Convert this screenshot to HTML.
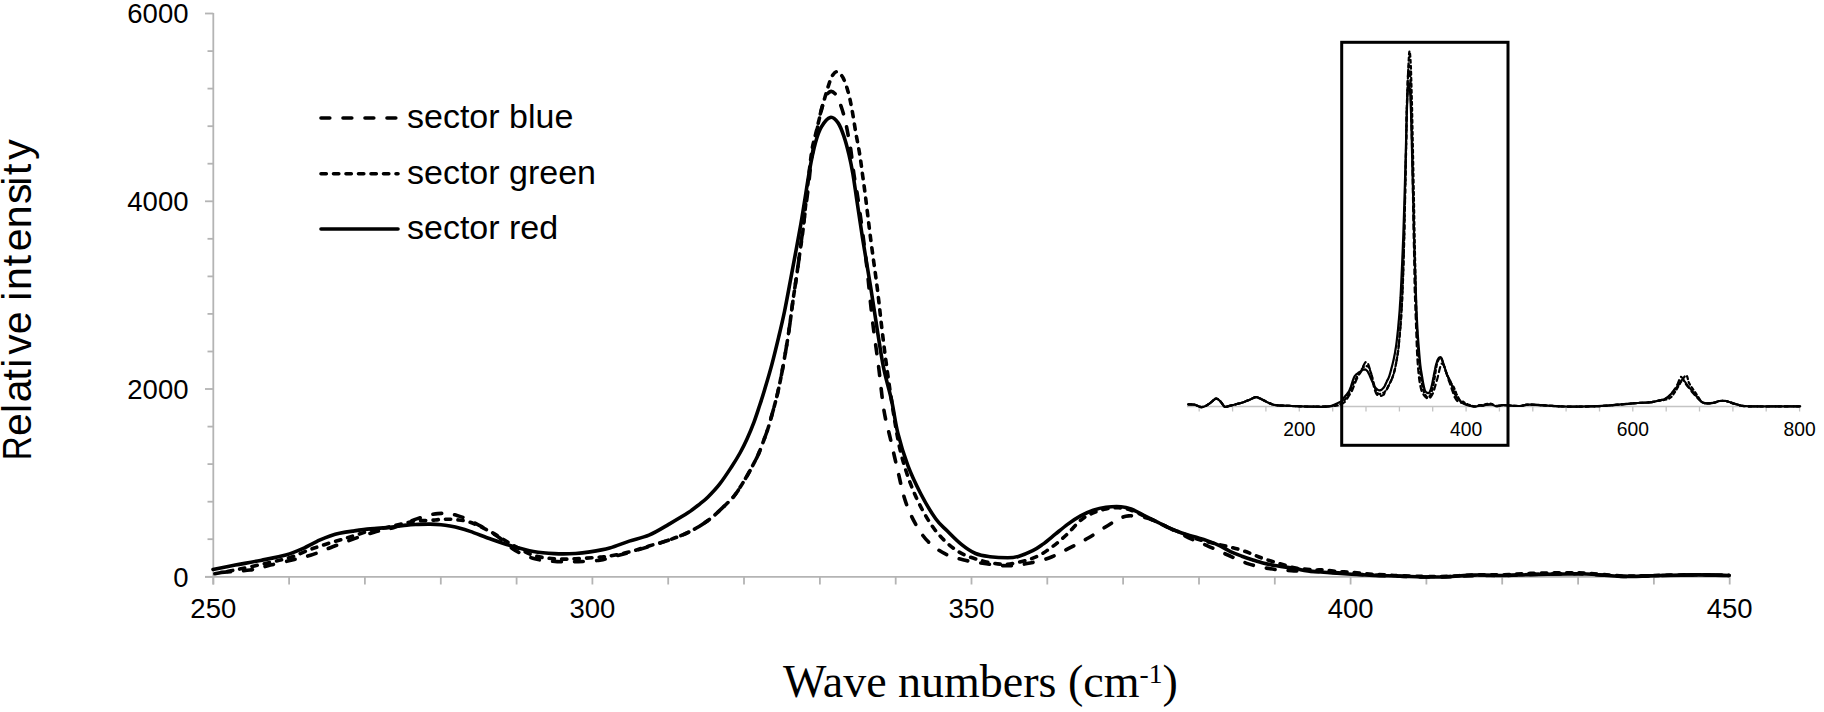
<!DOCTYPE html>
<html><head><meta charset="utf-8"><title>Raman spectra</title>
<style>html,body{margin:0;padding:0;background:#fff;}svg{display:block;}</style>
</head><body>
<svg width="1824" height="712" viewBox="0 0 1824 712">
<rect width="1824" height="712" fill="#fff"/>
<g stroke="#b4b4b4" stroke-width="1.8" fill="none"><line x1="213.3" y1="13" x2="213.3" y2="584.5" /><line x1="205" y1="576.8" x2="1730" y2="576.8" /><line x1="205" y1="13.5" x2="213.3" y2="13.5" /><line x1="207.5" y1="51.1" x2="213.3" y2="51.1" /><line x1="207.5" y1="88.6" x2="213.3" y2="88.6" /><line x1="207.5" y1="126.2" x2="213.3" y2="126.2" /><line x1="207.5" y1="163.7" x2="213.3" y2="163.7" /><line x1="205" y1="201.3" x2="213.3" y2="201.3" /><line x1="207.5" y1="238.8" x2="213.3" y2="238.8" /><line x1="207.5" y1="276.4" x2="213.3" y2="276.4" /><line x1="207.5" y1="313.9" x2="213.3" y2="313.9" /><line x1="207.5" y1="351.5" x2="213.3" y2="351.5" /><line x1="205" y1="389.0" x2="213.3" y2="389.0" /><line x1="207.5" y1="426.6" x2="213.3" y2="426.6" /><line x1="207.5" y1="464.1" x2="213.3" y2="464.1" /><line x1="207.5" y1="501.7" x2="213.3" y2="501.7" /><line x1="207.5" y1="539.2" x2="213.3" y2="539.2" /><line x1="205" y1="576.8" x2="213.3" y2="576.8" /><line x1="213.3" y1="576.8" x2="213.3" y2="584.5" /><line x1="289.1" y1="576.8" x2="289.1" y2="584.5" /><line x1="364.9" y1="576.8" x2="364.9" y2="584.5" /><line x1="440.8" y1="576.8" x2="440.8" y2="584.5" /><line x1="516.6" y1="576.8" x2="516.6" y2="584.5" /><line x1="592.4" y1="576.8" x2="592.4" y2="584.5" /><line x1="668.2" y1="576.8" x2="668.2" y2="584.5" /><line x1="744.0" y1="576.8" x2="744.0" y2="584.5" /><line x1="819.9" y1="576.8" x2="819.9" y2="584.5" /><line x1="895.7" y1="576.8" x2="895.7" y2="584.5" /><line x1="971.5" y1="576.8" x2="971.5" y2="584.5" /><line x1="1047.3" y1="576.8" x2="1047.3" y2="584.5" /><line x1="1123.1" y1="576.8" x2="1123.1" y2="584.5" /><line x1="1199.0" y1="576.8" x2="1199.0" y2="584.5" /><line x1="1274.8" y1="576.8" x2="1274.8" y2="584.5" /><line x1="1350.6" y1="576.8" x2="1350.6" y2="584.5" /><line x1="1426.4" y1="576.8" x2="1426.4" y2="584.5" /><line x1="1502.2" y1="576.8" x2="1502.2" y2="584.5" /><line x1="1578.1" y1="576.8" x2="1578.1" y2="584.5" /><line x1="1653.9" y1="576.8" x2="1653.9" y2="584.5" /><line x1="1729.7" y1="576.8" x2="1729.7" y2="584.5" /></g>
<g font-family="Liberation Sans, Arial, sans-serif" font-size="27.5" fill="#000"><text x="188.5" y="23.3" text-anchor="end">6000</text><text x="188.5" y="211.1" text-anchor="end">4000</text><text x="188.5" y="398.8" text-anchor="end">2000</text><text x="188.5" y="586.6" text-anchor="end">0</text><text x="213.3" y="617.8" text-anchor="middle">250</text><text x="592.4" y="617.8" text-anchor="middle">300</text><text x="971.5" y="617.8" text-anchor="middle">350</text><text x="1350.6" y="617.8" text-anchor="middle">400</text><text x="1729.7" y="617.8" text-anchor="middle">450</text></g>
<text x="783" y="696.7" font-family="Liberation Serif, Times New Roman, serif" font-size="46" fill="#000">Wave numbers (cm<tspan font-size="27.5" dy="-14">-1</tspan><tspan dy="14">)</tspan></text>
<text transform="translate(31,460.3) rotate(-90)" x="0.0 24.3 47.4 58.0 79.8 92.6 105.5 126.0 149.0 159.5 170.2 194.0 209.0 232.0 256.3 274.5 285.2 300.6" font-family="Liberation Sans, Arial, sans-serif" font-size="41" fill="#000"><tspan textLength="24" lengthAdjust="spacingAndGlyphs">R</tspan>elative intensity</text>
<g stroke="#000" stroke-width="3.6" stroke-linecap="round" fill="none"><line x1="321" y1="118" x2="397" y2="118" stroke-dasharray="8.8 13.2" /><line x1="321" y1="173.7" x2="398" y2="173.7" stroke-dasharray="5.3 7.2" /><line x1="321" y1="229" x2="398" y2="229" /></g>
<g font-family="Liberation Sans, Arial, sans-serif" font-size="34" fill="#000"><text x="407" y="127.5">sector blue</text><text x="407" y="183.5">sector green</text><text x="407" y="239">sector red</text></g>
<g stroke="#000" stroke-width="3.6" stroke-linecap="round" stroke-linejoin="round" fill="none"><path d="M213.0,573.0 C219.2,572.5 240.4,571.3 250.0,570.0 C259.6,568.7 263.0,566.9 270.4,565.1 C277.8,563.4 287.2,561.3 294.3,559.5 C301.4,557.7 306.7,556.6 313.2,554.4 C319.7,552.2 326.4,549.1 333.3,546.5 C340.2,543.9 347.2,541.1 354.4,538.6 C361.6,536.1 369.7,533.5 376.3,531.6 C382.9,529.8 387.3,529.6 394.0,527.5 C400.7,525.4 409.4,521.2 416.7,518.9 C424.0,516.6 431.0,514.2 437.7,513.6 C444.4,513.0 450.2,513.5 457.0,515.4 C463.8,517.3 471.8,521.5 478.7,525.1 C485.6,528.7 492.2,532.8 498.3,537.0 C504.4,541.2 509.1,546.8 515.2,550.4 C521.3,554.0 527.8,556.9 534.8,558.8 C541.8,560.7 550.0,561.1 557.3,561.6 C564.6,562.1 571.3,561.8 578.4,561.6 C585.5,561.4 594.8,560.9 600.0,560.2 C605.2,559.5 604.8,558.8 609.7,557.5 C614.6,556.2 622.8,554.3 629.3,552.5 C635.8,550.7 642.4,548.6 649.0,546.5 C655.6,544.4 662.2,542.5 668.7,540.1 C675.2,537.7 681.8,535.6 688.3,532.3 C694.8,529.0 701.4,525.4 708.0,520.5 C714.6,515.6 723.0,507.3 727.7,502.8 C732.4,498.3 733.0,497.6 736.0,493.5 C739.0,489.4 742.8,482.9 745.6,478.3 C748.4,473.7 750.5,469.7 752.6,465.7 C754.7,461.7 756.4,458.7 758.3,454.4 C760.2,450.1 762.3,444.3 763.9,440.0 C765.5,435.7 766.7,432.5 768.0,428.5 C769.3,424.5 770.3,420.7 771.6,416.0 C772.9,411.3 774.7,404.8 775.8,400.5 C776.9,396.2 777.2,395.2 778.2,390.5 C779.2,385.8 780.7,379.1 782.0,372.0 C783.3,364.9 784.9,355.7 786.2,348.0 C787.5,340.3 788.5,333.8 789.6,326.0 C790.7,318.2 791.8,309.0 792.9,301.0 C794.0,293.0 795.2,285.7 796.3,278.0 C797.4,270.3 798.4,263.3 799.5,255.0 C800.6,246.7 801.6,238.8 803.0,228.0 C804.4,217.2 806.7,200.8 808.0,190.0 C809.3,179.2 810.0,170.8 811.0,163.0 C812.0,155.2 813.4,147.6 814.2,143.0 C815.0,138.4 815.4,138.2 816.0,135.6 C816.6,133.0 816.9,130.7 817.6,127.2 C818.3,123.7 819.5,117.7 820.2,114.5 C820.9,111.3 821.1,110.2 821.8,107.8 C822.5,105.4 823.6,102.4 824.4,100.2 C825.2,98.0 825.7,96.1 826.8,94.6 C827.9,93.1 829.7,91.5 831.1,91.4 C832.5,91.3 834.1,92.7 835.3,94.0 C836.5,95.3 837.5,97.2 838.5,99.5 C839.5,101.8 840.6,104.8 841.5,107.5 C842.4,110.2 843.2,112.8 844.0,116.0 C844.8,119.2 845.8,123.0 846.5,126.5 C847.2,130.0 847.8,133.0 848.5,137.0 C849.2,141.0 850.0,144.2 850.9,150.4 C851.8,156.6 852.8,166.2 853.9,174.0 C855.0,181.8 855.8,183.6 857.8,197.5 C859.8,211.4 863.4,237.4 865.8,257.7 C868.2,277.9 870.1,300.7 872.3,319.0 C874.4,337.3 876.8,352.2 878.7,367.4 C880.6,382.6 882.0,398.4 883.9,410.1 C885.8,421.9 887.9,427.8 890.2,437.9 C892.5,448.0 895.3,460.3 897.8,470.8 C900.3,481.3 902.4,492.2 905.4,501.1 C908.4,510.0 911.7,517.1 915.5,523.9 C919.3,530.6 923.1,536.5 928.1,541.6 C933.1,546.7 939.5,551.1 945.8,554.2 C952.1,557.4 959.4,558.9 966.1,560.5 C972.9,562.1 979.5,562.9 986.3,563.8 C993.1,564.7 1000.2,565.8 1007.0,565.8 C1013.8,565.8 1020.0,564.9 1027.0,563.6 C1034.0,562.3 1042.0,560.6 1049.0,558.0 C1056.0,555.4 1062.7,551.5 1069.2,548.2 C1075.7,544.9 1082.1,541.6 1088.2,538.0 C1094.3,534.4 1100.9,529.9 1105.9,526.7 C1111.0,523.6 1114.7,520.9 1118.5,519.1 C1122.3,517.3 1124.4,516.2 1128.6,515.9 C1132.8,515.6 1139.2,516.2 1143.8,517.2 C1148.4,518.2 1152.2,519.8 1156.4,521.6 C1160.6,523.4 1163.6,525.2 1169.1,527.9 C1174.6,530.6 1183.0,535.0 1189.3,538.0 C1195.6,541.0 1200.6,542.8 1207.0,545.6 C1213.4,548.4 1220.9,552.0 1227.8,555.0 C1234.7,558.0 1241.4,561.6 1248.5,563.9 C1255.6,566.2 1263.3,567.7 1270.4,568.8 C1277.5,569.9 1284.2,570.2 1291.3,570.7 C1298.4,571.2 1305.9,571.2 1313.2,571.5 C1320.5,571.8 1327.8,572.1 1335.1,572.6 C1342.4,573.1 1349.8,573.8 1357.1,574.3 C1364.4,574.8 1371.8,575.1 1379.0,575.4 C1386.2,575.7 1390.3,576.0 1400.0,576.3 C1409.7,576.6 1424.9,577.1 1437.3,577.0 C1449.7,576.9 1463.7,575.9 1474.6,575.6 C1485.5,575.4 1493.2,575.7 1502.5,575.5 C1511.8,575.3 1519.6,574.7 1530.5,574.4 C1541.4,574.1 1558.5,573.9 1567.8,573.8 C1577.1,573.7 1577.1,573.6 1586.4,574.0 C1595.7,574.4 1611.3,576.1 1623.7,576.4 C1636.1,576.6 1648.6,575.8 1661.0,575.5 C1673.4,575.2 1686.9,574.9 1698.2,574.9 C1709.5,574.9 1723.9,575.4 1729.0,575.5" stroke-dasharray="8.8 13.2" stroke-dashoffset="13.4" /><path d="M213.0,574.0 C217.2,573.2 228.9,571.2 238.0,569.4 C247.1,567.6 258.9,565.0 267.6,563.0 C276.3,561.0 283.1,559.7 290.0,557.5 C296.9,555.3 303.8,551.9 308.8,550.0 C313.8,548.1 316.2,547.4 320.2,546.1 C324.1,544.8 328.4,543.4 332.5,542.1 C336.6,540.9 340.8,539.8 344.7,538.6 C348.6,537.4 351.9,536.4 356.1,535.1 C360.4,533.8 364.9,532.0 370.2,530.7 C375.5,529.4 380.4,528.8 387.7,527.2 C395.0,525.6 407.1,522.4 414.0,521.3 C420.9,520.2 424.2,520.8 429.0,520.5 C433.8,520.2 438.5,519.4 443.0,519.3 C447.5,519.2 451.6,519.2 456.1,519.7 C460.6,520.2 464.3,520.2 470.2,522.3 C476.1,524.4 484.3,528.4 491.3,532.1 C498.3,535.9 505.4,540.9 512.4,544.8 C519.4,548.7 526.4,553.0 533.4,555.3 C540.4,557.6 547.5,558.2 554.5,558.8 C561.5,559.4 568.0,559.1 575.6,558.8 C583.2,558.5 594.3,557.6 600.0,557.1 C605.7,556.6 604.8,556.9 609.7,556.0 C614.6,555.1 622.8,553.7 629.3,552.0 C635.8,550.3 642.4,548.0 649.0,546.0 C655.6,544.0 662.2,542.4 668.7,540.1 C675.2,537.8 681.8,535.6 688.3,532.3 C694.8,529.0 701.4,525.4 708.0,520.5 C714.6,515.6 723.0,507.3 727.7,502.8 C732.4,498.3 733.0,497.6 736.0,493.5 C739.0,489.4 742.8,482.9 745.6,478.3 C748.4,473.7 750.5,469.7 752.6,465.7 C754.7,461.7 756.4,458.7 758.3,454.4 C760.2,450.1 762.3,444.3 763.9,440.0 C765.5,435.7 766.7,432.5 768.0,428.5 C769.3,424.5 770.3,420.7 771.6,416.0 C772.9,411.3 774.7,404.8 775.8,400.5 C776.9,396.2 777.2,395.2 778.2,390.5 C779.2,385.8 780.7,379.1 782.0,372.0 C783.3,364.9 784.9,355.7 786.2,348.0 C787.5,340.3 788.5,333.8 789.6,326.0 C790.7,318.2 791.8,309.0 792.9,301.0 C794.0,293.0 795.2,285.7 796.3,278.0 C797.4,270.3 798.4,263.0 799.5,255.0 C800.6,247.0 801.8,240.5 803.0,230.0 C804.2,219.5 805.6,204.9 807.0,192.0 C808.4,179.1 810.2,161.9 811.6,152.3 C813.0,142.8 813.7,142.2 815.5,134.7 C817.3,127.2 820.0,115.5 822.2,107.2 C824.4,98.9 827.0,90.0 828.8,84.6 C830.6,79.2 831.4,77.0 832.8,74.9 C834.2,72.8 835.5,71.3 837.2,71.8 C838.9,72.3 841.2,74.4 843.0,77.7 C844.8,81.0 846.5,86.2 848.0,91.4 C849.5,96.6 850.6,102.2 851.9,109.1 C853.2,116.0 854.5,125.2 855.8,132.7 C857.1,140.2 858.6,147.1 859.7,154.3 C860.9,161.5 861.7,168.7 862.7,175.9 C863.7,183.1 864.3,187.1 865.6,197.5 C866.9,207.9 868.7,223.5 870.6,238.4 C872.5,253.3 875.2,271.8 877.1,286.8 C879.0,301.9 880.3,315.3 881.9,328.7 C883.5,342.1 884.9,353.8 886.8,367.4 C888.6,380.9 890.8,396.1 893.0,410.0 C895.2,423.9 897.4,438.4 900.3,450.6 C903.2,462.8 906.6,473.3 910.4,483.4 C914.2,493.5 918.5,502.8 923.1,511.2 C927.8,519.6 932.4,527.2 938.3,534.0 C944.2,540.8 951.4,547.3 958.5,551.7 C965.6,556.1 973.6,558.4 981.2,560.5 C988.8,562.6 997.0,564.2 1004.0,564.3 C1011.0,564.4 1017.4,562.5 1022.9,561.2 C1028.4,559.9 1032.8,558.4 1037.0,556.5 C1041.2,554.6 1044.8,552.0 1048.3,549.6 C1051.8,547.2 1055.0,544.8 1058.3,542.1 C1061.5,539.4 1064.1,537.1 1067.8,533.5 C1071.5,529.9 1076.4,523.8 1080.6,520.3 C1084.8,516.8 1089.0,514.7 1093.2,512.8 C1097.4,510.9 1101.7,509.9 1105.9,509.0 C1110.1,508.1 1114.3,507.5 1118.5,507.7 C1122.7,507.9 1126.9,508.8 1131.1,510.2 C1135.3,511.6 1139.6,514.0 1143.8,515.9 C1148.0,517.8 1152.2,519.6 1156.4,521.6 C1160.6,523.6 1164.9,526.0 1169.1,527.9 C1173.3,529.8 1177.5,531.3 1181.7,533.0 C1185.9,534.7 1190.1,536.5 1194.3,538.0 C1198.5,539.5 1201.6,540.4 1207.0,541.8 C1212.4,543.2 1221.1,545.0 1226.6,546.3 C1232.0,547.6 1235.5,548.3 1239.7,549.6 C1243.9,550.9 1248.0,552.5 1251.8,554.0 C1255.6,555.5 1259.0,557.0 1262.8,558.4 C1266.6,559.8 1271.0,561.0 1274.8,562.2 C1278.6,563.4 1282.1,564.5 1285.8,565.5 C1289.5,566.5 1292.2,567.5 1296.8,568.2 C1301.4,568.9 1308.6,569.6 1313.2,569.9 C1317.8,570.2 1320.2,569.6 1324.2,569.9 C1328.2,570.2 1333.1,571.1 1337.3,571.5 C1341.5,571.9 1345.4,571.8 1349.4,572.1 C1353.4,572.4 1357.4,572.8 1361.4,573.2 C1365.4,573.6 1369.7,574.0 1373.5,574.3 C1377.3,574.6 1380.1,574.6 1384.5,574.8 C1388.9,575.0 1391.2,575.3 1400.0,575.6 C1408.8,575.9 1424.9,576.6 1437.3,576.5 C1449.7,576.4 1463.7,575.3 1474.6,575.0 C1485.5,574.7 1493.2,575.1 1502.5,574.8 C1511.8,574.5 1519.6,573.7 1530.5,573.4 C1541.4,573.1 1558.5,572.8 1567.8,572.8 C1577.1,572.8 1577.1,572.7 1586.4,573.2 C1595.7,573.7 1611.3,575.6 1623.7,576.0 C1636.1,576.4 1648.6,575.5 1661.0,575.3 C1673.4,575.1 1686.9,574.7 1698.2,574.7 C1709.5,574.7 1723.9,575.2 1729.0,575.3" stroke-dasharray="5.3 7.2" stroke-dashoffset="10.3" /><path d="M213.0,569.5 C216.7,568.8 227.4,566.6 235.3,565.1 C243.2,563.6 252.1,562.1 260.5,560.4 C268.9,558.7 278.8,557.0 285.8,555.0 C292.8,553.0 297.1,551.1 302.7,548.6 C308.3,546.1 314.9,542.3 319.5,540.2 C324.1,538.1 326.7,537.1 330.0,536.0 C333.3,534.9 335.7,534.1 339.5,533.3 C343.3,532.5 347.5,531.8 352.6,531.1 C357.7,530.4 364.0,529.5 370.2,528.9 C376.4,528.3 383.9,528.0 390.0,527.4 C396.1,526.8 402.2,525.6 406.9,525.1 C411.6,524.6 414.5,524.6 418.4,524.4 C422.2,524.2 426.2,524.0 430.0,524.1 C433.8,524.2 437.7,524.4 441.0,524.7 C444.3,525.0 446.8,525.4 450.0,526.0 C453.2,526.6 456.6,527.3 460.0,528.2 C463.4,529.1 465.0,529.6 470.2,531.4 C475.4,533.2 484.3,536.7 491.3,539.2 C498.3,541.7 505.4,544.2 512.4,546.2 C519.4,548.2 526.4,550.2 533.4,551.4 C540.4,552.6 547.5,553.2 554.5,553.6 C561.5,554.0 569.7,553.8 575.6,553.5 C581.5,553.2 584.3,552.8 590.0,551.9 C595.7,551.0 603.2,549.8 609.7,548.0 C616.2,546.2 622.8,543.2 629.3,541.1 C635.8,539.0 642.4,538.0 649.0,535.2 C655.6,532.4 662.2,528.2 668.7,524.4 C675.2,520.6 683.1,516.0 688.3,512.6 C693.5,509.2 696.7,506.4 700.0,503.8 C703.3,501.2 704.7,500.2 708.0,496.9 C711.3,493.6 715.7,489.1 719.6,484.1 C723.5,479.2 727.9,472.4 731.3,467.2 C734.7,462.0 737.4,457.7 740.0,453.0 C742.6,448.3 744.7,444.1 747.0,439.0 C749.3,433.9 751.9,427.7 754.0,422.1 C756.1,416.5 757.9,410.7 759.7,405.3 C761.5,399.9 762.6,396.6 764.6,389.8 C766.6,383.0 769.6,373.1 771.9,364.4 C774.2,355.7 776.5,346.2 778.6,337.4 C780.7,328.6 782.5,321.1 784.5,311.5 C786.5,301.9 787.8,294.6 790.5,280.0 C793.2,265.4 797.7,242.0 800.9,223.7 C804.1,205.4 807.2,183.5 809.6,170.0 C812.0,156.5 813.5,149.7 815.5,142.5 C817.5,135.3 818.9,131.0 821.4,126.8 C823.9,122.6 827.5,118.1 830.3,117.4 C833.1,116.8 835.8,119.7 838.1,122.9 C840.4,126.1 842.2,131.4 844.0,136.6 C845.8,141.8 847.4,148.1 848.9,154.3 C850.4,160.5 851.6,166.4 852.9,174.0 C854.2,181.6 855.2,189.2 856.8,199.9 C858.4,210.6 860.3,223.9 862.6,238.4 C864.9,252.9 868.2,271.8 870.6,286.8 C873.0,301.9 875.0,315.3 877.1,328.7 C879.2,342.1 881.1,355.5 883.5,367.4 C885.9,379.3 889.1,389.1 891.5,400.0 C893.9,410.9 895.1,421.9 897.8,432.9 C900.5,443.8 904.1,455.6 907.9,465.7 C911.7,475.8 916.0,484.6 920.6,493.5 C925.2,502.4 931.3,512.6 935.7,518.8 C940.1,525.0 942.8,526.5 947.1,530.7 C951.4,535.0 956.6,540.5 961.4,544.3 C966.1,548.1 970.9,551.4 975.6,553.5 C980.4,555.6 984.5,556.0 989.9,556.7 C995.2,557.4 1003.0,557.8 1007.7,557.8 C1012.5,557.8 1014.2,557.6 1018.4,556.4 C1022.6,555.2 1028.7,552.7 1032.7,550.7 C1036.7,548.7 1038.8,547.1 1042.6,544.4 C1046.4,541.6 1051.1,537.6 1055.3,534.2 C1059.5,530.8 1063.7,527.2 1067.9,524.1 C1072.1,521.0 1076.4,518.2 1080.6,515.9 C1084.8,513.6 1089.0,511.6 1093.2,510.2 C1097.4,508.8 1101.3,507.9 1105.9,507.3 C1110.5,506.7 1116.8,506.4 1121.0,506.7 C1125.2,507.0 1127.3,507.6 1131.1,509.0 C1134.9,510.4 1139.6,513.2 1143.8,515.3 C1148.0,517.4 1152.2,519.5 1156.4,521.6 C1160.6,523.7 1164.9,526.0 1169.1,527.9 C1173.3,529.8 1177.5,531.5 1181.7,533.0 C1185.9,534.5 1190.1,535.5 1194.3,536.8 C1198.5,538.1 1202.7,539.1 1207.0,540.6 C1211.3,542.1 1216.0,543.9 1220.0,545.8 C1224.0,547.7 1227.3,550.1 1231.0,551.8 C1234.7,553.5 1238.2,554.8 1241.9,556.2 C1245.6,557.6 1249.2,558.8 1252.9,560.0 C1256.6,561.2 1260.2,562.4 1263.9,563.3 C1267.6,564.2 1271.2,564.9 1274.8,565.5 C1278.4,566.1 1282.1,566.6 1285.8,567.1 C1289.5,567.6 1293.1,568.1 1296.8,568.8 C1300.5,569.4 1302.2,570.4 1307.7,571.0 C1313.2,571.6 1322.3,572.1 1329.6,572.6 C1336.9,573.1 1344.3,573.8 1351.6,574.3 C1358.9,574.8 1365.4,575.1 1373.5,575.4 C1381.6,575.7 1389.4,575.8 1400.0,576.1 C1410.6,576.4 1424.9,577.2 1437.3,577.0 C1449.7,576.8 1463.7,575.4 1474.6,575.1 C1485.5,574.9 1493.2,575.6 1502.5,575.5 C1511.8,575.4 1519.6,574.9 1530.5,574.6 C1541.4,574.4 1558.5,574.1 1567.8,574.0 C1577.1,573.9 1577.1,573.6 1586.4,574.0 C1595.7,574.4 1611.3,576.1 1623.7,576.4 C1636.1,576.6 1648.6,575.8 1661.0,575.5 C1673.4,575.2 1686.9,574.9 1698.2,574.9 C1709.5,574.9 1723.9,575.4 1729.0,575.5" /></g>
<line x1="1187" y1="406.5" x2="1800.5" y2="406.5" stroke="#c4c4c4" stroke-width="1.4"/><line x1="1199.2" y1="406.5" x2="1199.2" y2="411.5" stroke="#c4c4c4" stroke-width="1.3"/><line x1="1232.6" y1="406.5" x2="1232.6" y2="411.5" stroke="#c4c4c4" stroke-width="1.3"/><line x1="1265.9" y1="406.5" x2="1265.9" y2="411.5" stroke="#c4c4c4" stroke-width="1.3"/><line x1="1299.3" y1="406.5" x2="1299.3" y2="411.5" stroke="#c4c4c4" stroke-width="1.3"/><line x1="1332.7" y1="406.5" x2="1332.7" y2="411.5" stroke="#c4c4c4" stroke-width="1.3"/><line x1="1366.0" y1="406.5" x2="1366.0" y2="411.5" stroke="#c4c4c4" stroke-width="1.3"/><line x1="1399.4" y1="406.5" x2="1399.4" y2="411.5" stroke="#c4c4c4" stroke-width="1.3"/><line x1="1432.7" y1="406.5" x2="1432.7" y2="411.5" stroke="#c4c4c4" stroke-width="1.3"/><line x1="1466.1" y1="406.5" x2="1466.1" y2="411.5" stroke="#c4c4c4" stroke-width="1.3"/><line x1="1499.4" y1="406.5" x2="1499.4" y2="411.5" stroke="#c4c4c4" stroke-width="1.3"/><line x1="1532.8" y1="406.5" x2="1532.8" y2="411.5" stroke="#c4c4c4" stroke-width="1.3"/><line x1="1566.1" y1="406.5" x2="1566.1" y2="411.5" stroke="#c4c4c4" stroke-width="1.3"/><line x1="1599.5" y1="406.5" x2="1599.5" y2="411.5" stroke="#c4c4c4" stroke-width="1.3"/><line x1="1632.8" y1="406.5" x2="1632.8" y2="411.5" stroke="#c4c4c4" stroke-width="1.3"/><line x1="1666.2" y1="406.5" x2="1666.2" y2="411.5" stroke="#c4c4c4" stroke-width="1.3"/><line x1="1699.5" y1="406.5" x2="1699.5" y2="411.5" stroke="#c4c4c4" stroke-width="1.3"/><line x1="1732.9" y1="406.5" x2="1732.9" y2="411.5" stroke="#c4c4c4" stroke-width="1.3"/><line x1="1766.2" y1="406.5" x2="1766.2" y2="411.5" stroke="#c4c4c4" stroke-width="1.3"/><line x1="1799.6" y1="406.5" x2="1799.6" y2="411.5" stroke="#c4c4c4" stroke-width="1.3"/><text x="1299.3" y="436.3" text-anchor="middle" font-family="Liberation Sans, Arial, sans-serif" font-size="19.3">200</text><text x="1466.1" y="436.3" text-anchor="middle" font-family="Liberation Sans, Arial, sans-serif" font-size="19.3">400</text><text x="1632.8" y="436.3" text-anchor="middle" font-family="Liberation Sans, Arial, sans-serif" font-size="19.3">600</text><text x="1799.6" y="436.3" text-anchor="middle" font-family="Liberation Sans, Arial, sans-serif" font-size="19.3">800</text><g stroke="#000" stroke-width="2.2" stroke-linecap="round" stroke-linejoin="round" fill="none"><path d="M1188.4,404.4 C1189.4,404.4 1192.5,404.3 1194.4,404.7 C1196.4,405.1 1198.4,406.6 1200.1,406.9 C1201.8,407.2 1202.9,407.1 1204.5,406.5 C1206.1,405.9 1208.2,404.4 1209.7,403.4 C1211.2,402.4 1212.1,401.2 1213.2,400.4 C1214.3,399.6 1215.1,398.5 1216.3,398.6 C1217.5,398.7 1218.9,399.9 1220.3,401.2 C1221.7,402.5 1223.1,405.9 1224.6,406.7 C1226.1,407.5 1227.6,406.2 1229.5,405.8 C1231.4,405.4 1233.8,404.9 1236.0,404.3 C1238.2,403.8 1240.4,403.2 1242.6,402.5 C1244.8,401.8 1247.0,400.8 1249.2,399.9 C1251.4,399.0 1254.0,397.3 1255.8,397.1 C1257.6,396.9 1258.7,398.0 1260.2,398.6 C1261.7,399.2 1263.0,400.0 1264.6,400.8 C1266.2,401.6 1268.1,402.7 1270.0,403.4 C1271.9,404.1 1272.4,404.8 1276.0,405.2 C1279.6,405.6 1286.0,405.8 1291.8,406.0 C1297.5,406.2 1304.3,406.6 1310.5,406.6 C1316.7,406.7 1324.0,406.8 1329.1,406.3 C1334.2,405.8 1338.3,404.6 1341.0,403.8 C1343.6,403.1 1344.0,402.7 1345.1,401.7 C1346.1,400.8 1346.5,399.5 1347.3,398.3 C1348.1,397.1 1349.1,395.6 1349.9,394.3 C1350.7,393.1 1351.3,392.3 1352.0,390.8 C1352.7,389.2 1353.5,387.1 1354.2,385.2 C1355.0,383.3 1355.7,381.4 1356.5,379.6 C1357.3,377.9 1358.2,376.0 1358.9,374.7 C1359.7,373.4 1360.1,373.3 1360.9,371.8 C1361.6,370.3 1362.6,367.4 1363.4,365.8 C1364.2,364.2 1365.0,362.5 1365.7,362.1 C1366.4,361.6 1367.1,362.0 1367.8,363.3 C1368.6,364.7 1369.4,367.6 1370.2,370.1 C1371.0,372.7 1371.7,375.5 1372.4,378.5 C1373.0,381.5 1373.5,385.4 1374.2,387.9 C1374.9,390.5 1375.6,392.5 1376.4,393.8 C1377.1,395.2 1378.0,395.5 1378.8,395.8 C1379.6,396.1 1380.4,396.0 1381.2,395.8 C1381.9,395.7 1383.0,395.3 1383.5,394.8 C1384.1,394.4 1384.1,393.8 1384.6,392.9 C1385.1,392.0 1386.0,390.7 1386.8,389.4 C1387.5,388.1 1388.2,386.7 1388.9,385.2 C1389.6,383.7 1390.4,382.4 1391.1,380.7 C1391.8,379.0 1392.5,377.5 1393.2,375.2 C1394.0,372.9 1394.7,370.4 1395.4,366.9 C1396.1,363.5 1397.1,357.6 1397.6,354.5 C1398.1,351.3 1398.2,350.8 1398.5,347.9 C1398.8,345.0 1399.2,340.5 1399.5,337.2 C1399.8,334.0 1400.1,331.2 1400.3,328.4 C1400.5,325.6 1400.7,323.4 1400.9,320.4 C1401.1,317.4 1401.4,313.3 1401.5,310.3 C1401.7,307.2 1401.9,305.0 1402.0,302.2 C1402.1,299.4 1402.3,296.7 1402.4,293.4 C1402.5,290.1 1402.7,285.5 1402.9,282.5 C1403.0,279.5 1403.0,278.8 1403.1,275.5 C1403.2,272.1 1403.4,267.4 1403.5,262.5 C1403.7,257.5 1403.9,251.0 1404.0,245.6 C1404.1,240.2 1404.3,235.6 1404.4,230.1 C1404.5,224.6 1404.6,218.1 1404.7,212.5 C1404.9,206.9 1405.0,201.7 1405.1,196.3 C1405.2,190.9 1405.3,186.0 1405.5,180.2 C1405.6,174.3 1405.7,168.8 1405.8,161.2 C1406.0,153.5 1406.3,142.1 1406.4,134.4 C1406.5,126.8 1406.6,121.0 1406.7,115.4 C1406.8,109.9 1407.0,104.6 1407.1,101.4 C1407.2,98.2 1407.2,98.0 1407.3,96.2 C1407.3,94.3 1407.4,92.7 1407.5,90.3 C1407.5,87.8 1407.7,83.6 1407.7,81.3 C1407.8,79.1 1407.8,78.3 1407.9,76.6 C1408.0,74.9 1408.1,72.8 1408.2,71.3 C1408.3,69.7 1408.3,68.4 1408.5,67.3 C1408.6,66.3 1408.8,65.2 1408.9,65.1 C1409.1,65.0 1409.3,66.0 1409.4,66.9 C1409.5,67.9 1409.6,69.2 1409.7,70.8 C1409.9,72.4 1410.0,74.5 1410.1,76.4 C1410.2,78.3 1410.3,80.2 1410.4,82.4 C1410.4,84.6 1410.5,87.3 1410.6,89.8 C1410.7,92.2 1410.8,94.4 1410.8,97.2 C1410.9,100.0 1411.0,102.2 1411.1,106.6 C1411.2,110.9 1411.3,117.7 1411.4,123.2 C1411.6,128.7 1411.7,129.9 1411.9,139.7 C1412.1,149.5 1412.5,167.8 1412.8,182.1 C1413.0,196.3 1413.2,212.3 1413.5,225.2 C1413.7,238.0 1414.0,248.5 1414.2,259.2 C1414.4,269.9 1414.5,281.0 1414.7,289.3 C1415.0,297.5 1415.2,301.7 1415.4,308.8 C1415.7,315.9 1416.0,324.5 1416.3,332.0 C1416.5,339.4 1416.8,347.0 1417.1,353.3 C1417.4,359.5 1417.8,364.6 1418.2,369.3 C1418.6,374.0 1419.0,378.2 1419.6,381.8 C1420.2,385.3 1420.8,388.4 1421.5,390.6 C1422.2,392.8 1423.0,393.9 1423.8,395.0 C1424.5,396.2 1425.2,396.7 1426.0,397.4 C1426.7,398.0 1427.5,398.8 1428.3,398.8 C1429.0,398.8 1429.7,398.1 1430.5,397.2 C1431.2,396.3 1432.1,395.1 1432.9,393.3 C1433.7,391.5 1434.4,388.7 1435.1,386.4 C1435.8,384.0 1436.5,381.7 1437.2,379.2 C1437.9,376.7 1438.6,373.5 1439.1,371.3 C1439.7,369.1 1440.1,367.2 1440.5,365.9 C1440.9,364.7 1441.2,363.9 1441.6,363.7 C1442.1,363.5 1442.8,363.9 1443.3,364.6 C1443.8,365.3 1444.2,366.4 1444.7,367.7 C1445.2,368.9 1445.5,370.2 1446.1,372.1 C1446.7,374.0 1447.6,377.1 1448.3,379.2 C1449.0,381.3 1449.6,382.6 1450.3,384.6 C1451.0,386.6 1451.8,389.0 1452.5,391.2 C1453.3,393.3 1454.0,395.8 1454.8,397.4 C1455.6,399.1 1456.4,400.1 1457.2,400.9 C1458.0,401.7 1458.7,401.9 1459.5,402.2 C1460.3,402.5 1461.1,402.6 1461.9,402.8 C1462.7,403.0 1463.5,403.2 1464.3,403.6 C1465.1,403.9 1466.0,404.4 1466.8,404.8 C1467.6,405.1 1468.4,405.3 1469.2,405.5 C1470.0,405.8 1470.4,406.0 1471.5,406.2 C1472.5,406.3 1474.2,406.7 1475.6,406.7 C1476.9,406.6 1478.5,405.8 1479.7,405.7 C1480.9,405.5 1481.7,405.7 1482.7,405.6 C1483.8,405.5 1484.6,405.0 1485.8,404.8 C1487.0,404.6 1488.9,404.4 1489.9,404.4 C1490.9,404.4 1490.9,404.2 1492.0,404.5 C1493.0,404.8 1494.7,406.1 1496.1,406.2 C1497.4,406.4 1498.8,405.8 1500.2,405.6 C1501.5,405.4 1500.9,405.1 1504.3,405.2 C1507.6,405.2 1515.7,406.1 1520.0,406.0 C1524.3,405.9 1522.9,404.5 1530.2,404.6 C1537.5,404.7 1552.7,406.2 1563.9,406.5 C1575.2,406.8 1586.2,406.7 1597.7,406.2 C1609.2,405.7 1624.5,403.9 1633.2,403.3 C1641.9,402.7 1645.8,402.7 1650.0,402.3 C1654.2,401.9 1655.6,401.3 1658.2,400.7 C1660.8,400.1 1663.5,399.8 1665.8,398.5 C1668.1,397.2 1670.2,395.1 1672.1,392.8 C1674.0,390.5 1675.9,387.2 1677.4,384.5 C1678.9,381.8 1679.7,377.0 1681.0,376.8 C1682.3,376.6 1683.5,380.8 1685.5,383.5 C1687.5,386.2 1690.5,390.1 1693.0,393.0 C1695.5,395.9 1698.6,399.3 1700.6,401.0 C1702.6,402.7 1702.9,402.9 1705.0,403.2 C1707.1,403.5 1710.8,403.3 1713.2,402.9 C1715.6,402.5 1717.4,401.3 1719.5,401.0 C1721.6,400.7 1724.0,400.8 1725.8,401.0 C1727.5,401.2 1728.3,401.8 1730.0,402.3 C1731.7,402.8 1733.1,403.5 1736.2,404.2 C1739.3,404.9 1738.0,405.9 1748.7,406.3 C1759.4,406.7 1791.6,406.3 1800.2,406.3" stroke-dasharray="5 4"/><path d="M1188.4,404.4 C1189.4,404.4 1192.5,404.3 1194.4,404.7 C1196.4,405.1 1198.4,406.6 1200.1,406.9 C1201.8,407.2 1202.9,407.1 1204.5,406.5 C1206.1,405.9 1208.2,404.4 1209.7,403.4 C1211.2,402.4 1212.1,401.2 1213.2,400.4 C1214.3,399.6 1215.1,398.5 1216.3,398.6 C1217.5,398.7 1218.9,399.9 1220.3,401.2 C1221.7,402.5 1223.1,405.9 1224.6,406.7 C1226.1,407.5 1227.6,406.2 1229.5,405.8 C1231.4,405.4 1233.8,404.9 1236.0,404.3 C1238.2,403.8 1240.4,403.2 1242.6,402.5 C1244.8,401.8 1247.0,400.8 1249.2,399.9 C1251.4,399.0 1254.0,397.3 1255.8,397.1 C1257.6,396.9 1258.7,398.0 1260.2,398.6 C1261.7,399.2 1263.0,400.0 1264.6,400.8 C1266.2,401.6 1268.1,402.7 1270.0,403.4 C1271.9,404.1 1272.4,404.8 1276.0,405.2 C1279.6,405.6 1286.0,405.8 1291.8,406.0 C1297.5,406.2 1304.3,406.6 1310.5,406.6 C1316.7,406.7 1324.0,406.6 1329.1,406.3 C1334.2,406.0 1338.6,405.4 1341.0,404.5 C1343.4,403.7 1342.7,402.6 1343.7,401.3 C1344.7,400.0 1346.0,398.2 1347.0,396.8 C1347.9,395.4 1348.7,394.5 1349.5,392.9 C1350.2,391.4 1351.0,389.0 1351.5,387.7 C1352.1,386.3 1352.3,385.8 1352.8,384.9 C1353.2,384.0 1353.7,383.0 1354.1,382.1 C1354.6,381.2 1355.0,380.5 1355.5,379.6 C1355.9,378.8 1356.3,378.1 1356.7,377.2 C1357.2,376.3 1357.7,375.0 1358.3,374.1 C1358.8,373.2 1359.4,372.7 1360.2,371.6 C1361.0,370.5 1362.3,368.3 1363.1,367.5 C1363.8,366.7 1364.2,367.1 1364.7,366.9 C1365.3,366.7 1365.8,366.2 1366.3,366.1 C1366.8,366.0 1367.2,366.0 1367.7,366.3 C1368.2,366.7 1368.6,366.7 1369.3,368.2 C1369.9,369.6 1370.8,372.4 1371.6,375.1 C1372.4,377.7 1373.1,381.3 1373.9,384.0 C1374.7,386.7 1375.4,389.7 1376.2,391.4 C1377.0,393.0 1377.8,393.4 1378.5,393.8 C1379.3,394.3 1380.0,394.0 1380.8,393.8 C1381.7,393.7 1382.9,393.0 1383.5,392.7 C1384.2,392.3 1384.1,392.5 1384.6,391.9 C1385.1,391.3 1386.0,390.2 1386.8,389.1 C1387.5,387.9 1388.2,386.2 1388.9,384.8 C1389.6,383.5 1390.4,382.3 1391.1,380.7 C1391.8,379.1 1392.5,377.5 1393.2,375.2 C1394.0,372.9 1394.7,370.4 1395.4,366.9 C1396.1,363.5 1397.1,357.6 1397.6,354.5 C1398.1,351.3 1398.2,350.8 1398.5,347.9 C1398.8,345.0 1399.2,340.5 1399.5,337.2 C1399.8,334.0 1400.1,331.2 1400.3,328.4 C1400.5,325.6 1400.7,323.4 1400.9,320.4 C1401.1,317.4 1401.4,313.3 1401.5,310.3 C1401.7,307.2 1401.9,305.0 1402.0,302.2 C1402.1,299.4 1402.3,296.7 1402.4,293.4 C1402.5,290.1 1402.7,285.5 1402.9,282.5 C1403.0,279.5 1403.0,278.8 1403.1,275.5 C1403.2,272.1 1403.4,267.4 1403.5,262.5 C1403.7,257.5 1403.9,251.0 1404.0,245.6 C1404.1,240.2 1404.3,235.6 1404.4,230.1 C1404.5,224.6 1404.6,218.1 1404.7,212.5 C1404.9,206.9 1405.0,201.7 1405.1,196.3 C1405.2,190.9 1405.3,185.8 1405.5,180.2 C1405.6,174.5 1405.7,170.0 1405.8,162.6 C1406.0,155.2 1406.1,145.0 1406.3,135.8 C1406.4,126.7 1406.6,114.6 1406.8,107.9 C1406.9,101.2 1407.0,100.8 1407.2,95.5 C1407.4,90.3 1407.7,82.1 1408.0,76.2 C1408.2,70.3 1408.5,64.1 1408.7,60.3 C1408.9,56.5 1409.0,55.0 1409.1,53.5 C1409.3,52.0 1409.4,51.0 1409.6,51.3 C1409.8,51.6 1410.0,53.1 1410.2,55.4 C1410.4,57.7 1410.6,61.4 1410.8,65.1 C1411.0,68.8 1411.1,72.7 1411.2,77.5 C1411.4,82.4 1411.5,88.8 1411.7,94.1 C1411.8,99.4 1412.0,104.3 1412.1,109.3 C1412.2,114.4 1412.3,119.5 1412.4,124.5 C1412.5,129.6 1412.6,132.4 1412.7,139.7 C1412.9,147.0 1413.1,158.0 1413.3,168.5 C1413.5,178.9 1413.8,191.9 1414.0,202.5 C1414.2,213.1 1414.3,222.5 1414.5,232.0 C1414.7,241.4 1414.9,249.7 1415.1,259.2 C1415.3,268.8 1415.5,279.4 1415.7,289.2 C1416.0,298.9 1416.2,309.1 1416.5,317.7 C1416.9,326.3 1417.2,333.7 1417.7,340.8 C1418.1,347.9 1418.5,354.4 1419.0,360.4 C1419.6,366.3 1420.1,371.7 1420.7,376.4 C1421.4,381.2 1422.2,385.7 1422.9,388.9 C1423.7,392.0 1424.6,393.6 1425.4,395.0 C1426.3,396.5 1427.2,397.6 1427.9,397.7 C1428.7,397.8 1429.4,396.5 1430.0,395.5 C1430.6,394.6 1431.1,393.6 1431.6,392.2 C1432.0,390.9 1432.4,389.1 1432.8,387.4 C1433.2,385.7 1433.6,384.0 1433.9,382.1 C1434.3,380.2 1434.5,378.6 1435.0,376.1 C1435.4,373.5 1435.9,369.2 1436.4,366.8 C1436.8,364.3 1437.3,362.8 1437.7,361.5 C1438.2,360.2 1438.7,359.4 1439.1,358.8 C1439.6,358.2 1440.1,357.8 1440.5,357.9 C1441.0,358.0 1441.5,358.7 1441.9,359.7 C1442.4,360.6 1442.8,362.3 1443.3,363.7 C1443.8,365.0 1444.2,366.3 1444.7,367.7 C1445.2,369.1 1445.6,370.8 1446.1,372.1 C1446.6,373.5 1447.0,374.5 1447.5,375.7 C1447.9,376.9 1448.4,378.2 1448.9,379.2 C1449.3,380.3 1449.7,380.9 1450.3,381.9 C1450.8,382.9 1451.8,384.1 1452.4,385.1 C1453.0,386.0 1453.4,386.5 1453.9,387.4 C1454.3,388.3 1454.8,389.4 1455.2,390.5 C1455.6,391.5 1456.0,392.6 1456.4,393.6 C1456.8,394.5 1457.3,395.4 1457.7,396.2 C1458.1,397.1 1458.5,397.9 1458.9,398.6 C1459.3,399.3 1459.6,399.9 1460.1,400.5 C1460.6,401.0 1461.4,401.5 1461.9,401.7 C1462.4,401.9 1462.7,401.5 1463.1,401.7 C1463.6,401.8 1464.1,402.5 1464.6,402.8 C1465.0,403.0 1465.5,403.0 1465.9,403.2 C1466.4,403.4 1466.8,403.7 1467.2,404.0 C1467.7,404.2 1468.1,404.6 1468.6,404.8 C1469.0,404.9 1469.3,405.0 1469.8,405.1 C1470.3,405.3 1470.5,405.5 1471.5,405.7 C1472.4,405.9 1474.2,406.4 1475.6,406.3 C1476.9,406.2 1478.5,405.4 1479.7,405.2 C1480.9,405.0 1481.7,405.3 1482.7,405.1 C1483.8,404.9 1484.6,404.4 1485.8,404.1 C1487.0,403.9 1488.9,403.7 1489.9,403.7 C1490.9,403.7 1490.9,403.6 1492.0,404.0 C1493.0,404.4 1494.7,405.7 1496.1,405.9 C1497.4,406.2 1498.8,405.6 1500.2,405.5 C1501.5,405.3 1500.9,404.9 1504.3,405.0 C1507.6,405.1 1515.7,406.1 1520.0,406.0 C1524.3,405.9 1522.9,404.5 1530.2,404.6 C1537.5,404.7 1552.7,406.2 1563.9,406.5 C1575.2,406.8 1586.2,406.7 1597.7,406.2 C1609.2,405.7 1624.5,403.9 1633.2,403.3 C1641.9,402.7 1645.8,402.7 1650.0,402.3 C1654.2,401.9 1655.5,401.2 1658.2,400.7 C1661.0,400.2 1664.4,400.1 1666.5,399.5 C1668.6,398.9 1669.5,398.5 1671.0,397.2 C1672.5,395.9 1673.6,394.0 1675.3,391.5 C1677.0,389.0 1679.2,384.7 1681.0,382.0 C1682.8,379.3 1684.9,375.3 1686.3,375.5 C1687.7,375.7 1687.8,380.6 1689.2,383.3 C1690.7,386.1 1693.0,389.1 1695.0,392.0 C1697.0,394.9 1699.3,399.1 1701.0,401.0 C1702.7,402.9 1703.0,402.9 1705.0,403.2 C1707.0,403.5 1710.8,403.3 1713.2,402.9 C1715.6,402.5 1717.4,401.3 1719.5,401.0 C1721.6,400.7 1724.0,400.8 1725.8,401.0 C1727.5,401.2 1728.3,401.8 1730.0,402.3 C1731.7,402.8 1733.1,403.5 1736.2,404.2 C1739.3,404.9 1738.0,405.9 1748.7,406.3 C1759.4,406.7 1791.6,406.3 1800.2,406.3" stroke-dasharray="3 3"/><path d="M1188.4,404.4 C1189.4,404.4 1192.5,404.3 1194.4,404.7 C1196.4,405.1 1198.4,406.6 1200.1,406.9 C1201.8,407.2 1202.9,407.1 1204.5,406.5 C1206.1,405.9 1208.2,404.4 1209.7,403.4 C1211.2,402.4 1212.1,401.2 1213.2,400.4 C1214.3,399.6 1215.1,398.5 1216.3,398.6 C1217.5,398.7 1218.9,399.9 1220.3,401.2 C1221.7,402.5 1223.1,405.9 1224.6,406.7 C1226.1,407.5 1227.6,406.2 1229.5,405.8 C1231.4,405.4 1233.8,404.9 1236.0,404.3 C1238.2,403.8 1240.4,403.2 1242.6,402.5 C1244.8,401.8 1247.0,400.8 1249.2,399.9 C1251.4,399.0 1254.0,397.3 1255.8,397.1 C1257.6,396.9 1258.7,398.0 1260.2,398.6 C1261.7,399.2 1263.0,400.0 1264.6,400.8 C1266.2,401.6 1268.1,402.7 1270.0,403.4 C1271.9,404.1 1272.4,404.8 1276.0,405.2 C1279.6,405.6 1286.0,405.8 1291.8,406.0 C1297.5,406.2 1304.3,406.6 1310.5,406.6 C1316.7,406.7 1324.0,407.2 1329.1,406.3 C1334.2,405.4 1338.6,402.7 1341.0,401.4 C1343.4,400.0 1342.6,399.3 1343.4,398.3 C1344.3,397.2 1345.3,396.2 1346.2,395.0 C1347.1,393.8 1348.2,392.6 1349.0,391.2 C1349.8,389.8 1350.2,388.4 1350.9,386.7 C1351.5,384.9 1352.2,382.2 1352.7,380.8 C1353.2,379.3 1353.5,378.6 1353.9,377.8 C1354.2,377.0 1354.5,376.5 1354.9,375.9 C1355.3,375.3 1355.8,374.9 1356.3,374.4 C1356.9,373.8 1357.6,373.3 1358.3,372.8 C1359.0,372.4 1359.8,372.2 1360.4,371.8 C1361.1,371.3 1361.8,370.5 1362.3,370.1 C1362.8,369.8 1363.1,369.8 1363.6,369.7 C1364.0,369.5 1364.4,369.4 1364.8,369.4 C1365.3,369.5 1365.7,369.6 1366.1,369.9 C1366.4,370.1 1366.7,370.4 1367.0,370.8 C1367.4,371.2 1367.8,371.7 1368.1,372.3 C1368.5,373.0 1368.7,373.3 1369.3,374.6 C1369.8,375.9 1370.8,378.3 1371.6,380.1 C1372.4,381.8 1373.1,383.6 1373.9,385.0 C1374.7,386.4 1375.4,387.8 1376.2,388.6 C1377.0,389.5 1377.8,389.9 1378.5,390.2 C1379.3,390.4 1380.2,390.3 1380.8,390.1 C1381.5,389.9 1381.8,389.6 1382.4,389.0 C1383.1,388.4 1383.9,387.5 1384.6,386.3 C1385.3,385.0 1386.0,382.9 1386.8,381.4 C1387.5,379.9 1388.2,379.2 1388.9,377.2 C1389.6,375.3 1390.4,372.3 1391.1,369.7 C1391.8,367.0 1392.7,363.8 1393.2,361.4 C1393.8,358.9 1394.2,357.0 1394.5,355.2 C1394.9,353.3 1395.0,352.6 1395.4,350.3 C1395.8,348.0 1396.3,344.8 1396.7,341.3 C1397.1,337.8 1397.6,333.1 1398.0,329.4 C1398.3,325.8 1398.6,322.7 1398.9,319.4 C1399.2,316.1 1399.4,313.2 1399.7,309.6 C1399.9,306.0 1400.2,301.6 1400.5,297.7 C1400.7,293.7 1400.9,289.7 1401.1,285.9 C1401.3,282.1 1401.4,279.8 1401.6,275.0 C1401.8,270.2 1402.2,263.3 1402.4,257.1 C1402.7,251.0 1402.9,244.3 1403.2,238.1 C1403.4,231.9 1403.6,226.6 1403.8,219.9 C1404.0,213.2 1404.2,208.0 1404.5,197.7 C1404.8,187.4 1405.3,171.0 1405.6,158.1 C1406.0,145.2 1406.3,129.9 1406.6,120.4 C1406.8,110.8 1407.0,106.1 1407.2,101.0 C1407.4,96.0 1407.6,92.9 1407.9,90.0 C1408.1,87.0 1408.5,83.8 1408.8,83.4 C1409.2,82.9 1409.5,85.0 1409.7,87.2 C1410.0,89.5 1410.2,93.2 1410.4,96.9 C1410.6,100.6 1410.7,104.9 1410.9,109.3 C1411.1,113.7 1411.2,117.8 1411.3,123.2 C1411.5,128.5 1411.6,133.8 1411.8,141.4 C1411.9,148.9 1412.1,158.3 1412.4,168.5 C1412.7,178.7 1413.0,191.9 1413.3,202.5 C1413.5,213.1 1413.8,222.5 1414.0,232.0 C1414.2,241.4 1414.4,250.9 1414.7,259.2 C1415.0,267.6 1415.3,274.5 1415.6,282.1 C1415.8,289.8 1416.0,297.6 1416.3,305.3 C1416.6,313.0 1417.0,321.3 1417.4,328.4 C1417.8,335.5 1418.3,341.7 1418.8,347.9 C1419.3,354.1 1419.9,361.4 1420.4,365.7 C1420.9,370.1 1421.2,371.1 1421.7,374.1 C1422.2,377.1 1422.7,381.0 1423.3,383.7 C1423.8,386.3 1424.3,388.7 1424.8,390.1 C1425.3,391.6 1425.8,391.9 1426.4,392.4 C1427.0,392.9 1427.8,393.2 1428.3,393.1 C1428.9,393.1 1429.1,393.0 1429.5,392.2 C1430.0,391.3 1430.7,389.6 1431.1,388.2 C1431.5,386.7 1431.8,385.7 1432.2,383.7 C1432.6,381.8 1433.1,378.9 1433.6,376.5 C1434.0,374.2 1434.5,371.6 1435.0,369.4 C1435.4,367.3 1435.9,365.3 1436.4,363.7 C1436.8,362.0 1437.3,360.7 1437.7,359.7 C1438.2,358.7 1438.6,358.0 1439.1,357.6 C1439.7,357.2 1440.3,357.0 1440.8,357.2 C1441.3,357.4 1441.5,357.8 1441.9,358.8 C1442.3,359.8 1442.8,361.8 1443.3,363.3 C1443.8,364.7 1444.2,366.2 1444.7,367.7 C1445.2,369.2 1445.6,370.8 1446.1,372.1 C1446.6,373.5 1447.0,374.7 1447.5,375.7 C1447.9,376.7 1448.4,377.5 1448.9,378.4 C1449.3,379.3 1449.8,380.0 1450.3,381.0 C1450.7,382.1 1451.2,383.4 1451.7,384.7 C1452.1,386.0 1452.5,387.7 1452.9,388.9 C1453.3,390.1 1453.7,391.1 1454.1,392.0 C1454.5,393.0 1454.9,393.9 1455.3,394.7 C1455.7,395.5 1456.1,396.4 1456.5,397.0 C1456.9,397.7 1457.3,398.1 1457.7,398.6 C1458.1,399.0 1458.5,399.3 1458.9,399.7 C1459.3,400.1 1459.7,400.4 1460.1,400.9 C1460.5,401.3 1460.7,402.0 1461.3,402.4 C1461.9,402.9 1462.9,403.2 1463.7,403.6 C1464.5,403.9 1465.3,404.4 1466.2,404.8 C1467.0,405.1 1467.7,405.3 1468.6,405.5 C1469.4,405.7 1470.3,405.8 1471.5,406.0 C1472.6,406.2 1474.2,406.8 1475.6,406.7 C1476.9,406.5 1478.5,405.5 1479.7,405.3 C1480.9,405.1 1481.7,405.7 1482.7,405.6 C1483.8,405.5 1484.6,405.1 1485.8,405.0 C1487.0,404.8 1488.9,404.6 1489.9,404.5 C1490.9,404.5 1490.9,404.3 1492.0,404.5 C1493.0,404.8 1494.7,406.1 1496.1,406.2 C1497.4,406.4 1498.8,405.8 1500.2,405.6 C1501.5,405.4 1500.9,405.1 1504.3,405.2 C1507.6,405.2 1515.7,406.1 1520.0,406.0 C1524.3,405.9 1522.9,404.5 1530.2,404.6 C1537.5,404.7 1552.7,406.2 1563.9,406.5 C1575.2,406.8 1586.2,406.7 1597.7,406.2 C1609.2,405.7 1624.5,403.9 1633.2,403.3 C1641.9,402.7 1645.8,402.7 1650.0,402.3 C1654.2,401.9 1655.6,401.3 1658.2,400.7 C1660.8,400.1 1663.5,399.8 1665.8,398.5 C1668.1,397.2 1670.0,395.0 1672.1,392.8 C1674.2,390.6 1676.7,387.4 1678.4,385.2 C1680.1,383.0 1680.9,379.4 1682.5,379.5 C1684.1,379.6 1686.0,383.6 1687.9,385.9 C1689.9,388.2 1692.1,390.9 1694.2,393.4 C1696.3,395.9 1698.8,399.4 1700.6,401.0 C1702.4,402.6 1702.9,402.9 1705.0,403.2 C1707.1,403.5 1710.8,403.3 1713.2,402.9 C1715.6,402.5 1717.4,401.3 1719.5,401.0 C1721.6,400.7 1724.0,400.8 1725.8,401.0 C1727.5,401.2 1728.3,401.8 1730.0,402.3 C1731.7,402.8 1733.1,403.5 1736.2,404.2 C1739.3,404.9 1738.0,405.9 1748.7,406.3 C1759.4,406.7 1791.6,406.3 1800.2,406.3"/></g><rect x="1341.7" y="42.3" width="166.3" height="403" fill="none" stroke="#000" stroke-width="3"/>
</svg>
</body></html>
